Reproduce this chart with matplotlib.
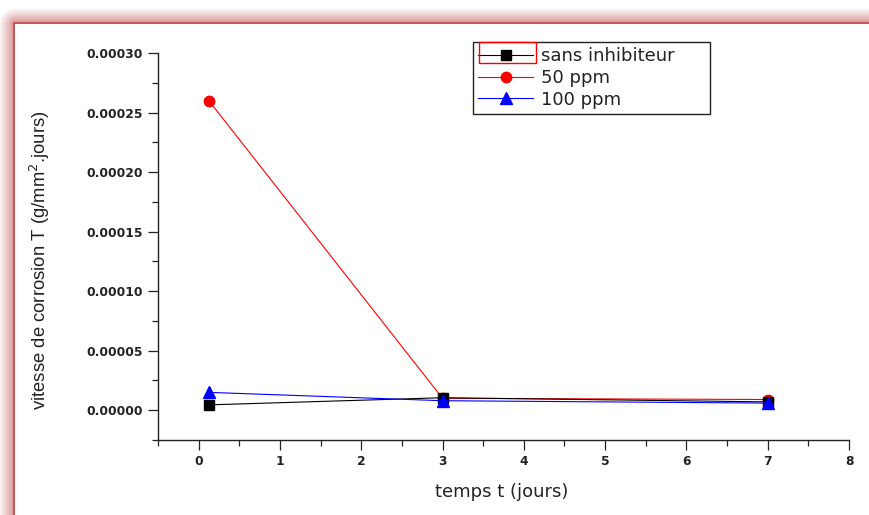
import numpy as np
import matplotlib
matplotlib.use("Agg")
import matplotlib.pyplot as plt
from matplotlib.ticker import MultipleLocator, FormatStrFormatter
from matplotlib.patches import Rectangle

# Measurements: corrosion rate vs immersion time
temps = [0.125, 3, 7]
sans_inhibiteur = [4.5e-6, 1.05e-5, 7.0e-6]
ppm_50 = [2.6e-4, 1.0e-5, 9.0e-6]
ppm_100 = [1.5e-5, 8.0e-6, 6.0e-6]
labels = ["sans inhibiteur", "50 ppm", "100 ppm"]

W, H = 870, 515
fig = plt.figure(figsize=(W / 100, H / 100), dpi=100)

# Soft pink frame around the page (top and left edges)
yy, xx = np.mgrid[0:H, 0:W]
inner_x, inner_y = 15, 24
dx = np.clip(inner_x - xx, 0, None)
dy = np.clip(inner_y - yy, 0, None)
d = np.sqrt(dx ** 2 + dy ** 2).astype(float)
a = np.clip(1 - d / 17.0, 0, 1) ** 1.1
a[(xx >= inner_x) & (yy >= inner_y)] = 0
pink = np.array([214, 138, 138]) / 255.0
img = np.ones((H, W, 3)) * (1 - a[..., None]) + pink * a[..., None]
dark = np.array([200, 88, 88]) / 255.0
img[(xx >= 13) & (xx < 15) & (yy >= 22)] = dark
img[(yy >= 22) & (yy < 24) & (xx >= 13)] = dark
fig.figimage(img, 0, 0, origin="upper", zorder=-5)

ax = fig.add_axes([158 / W, 1 - 440 / H, (849 - 158) / W, (440 - 53) / H])
ax.set_zorder(2)
ax.patch.set_alpha(0)

ax.plot(temps, sans_inhibiteur, color="black", lw=0.8, marker="s", ms=7,
        label=labels[0], zorder=3)
ax.plot(temps, ppm_50, color="red", lw=0.8, marker="o", ms=7.5,
        label=labels[1], zorder=2)
ax.plot(temps, ppm_100, color="blue", lw=0.8, marker="^", ms=8.5,
        label=labels[2], zorder=4)

ax.set_xlim(-0.5, 8)
ax.set_ylim(-0.000025, 0.0003)
for s in ("top", "right"):
    ax.spines[s].set_visible(False)
for s in ("left", "bottom"):
    ax.spines[s].set_linewidth(1.0)
    ax.spines[s].set_color("#222222")

ax.xaxis.set_major_locator(MultipleLocator(1))
ax.xaxis.set_minor_locator(MultipleLocator(0.5))
ax.yaxis.set_major_locator(MultipleLocator(0.00005))
ax.yaxis.set_minor_locator(MultipleLocator(0.000025))
ax.yaxis.set_major_formatter(FormatStrFormatter("%.5f"))
ax.xaxis.set_major_formatter(FormatStrFormatter("%d"))

ax.tick_params(which="major", direction="out", length=7, width=0.9,
               color="#222222", labelcolor="#222222", pad=4,
               labelsize=8.8)
ax.tick_params(which="minor", direction="out", length=4, width=0.9,
               color="#222222")
for lab in ax.get_xticklabels() + ax.get_yticklabels():
    lab.set_family("DejaVu Sans")
    lab.set_weight("bold")

ax.set_xlabel("temps t (jours)", fontsize=13, family="DejaVu Sans",
              color="#222222")
ax.xaxis.set_label_coords(0.498, -0.134)
ax.xaxis.label.set_va("center")
ax.set_ylabel("vitesse de corrosion T (g/mm$^2$.jours)", fontsize=13.3,
              family="Liberation Sans", color="#222222")
ax.yaxis.set_label_coords(-0.171, 0.465)
ax.yaxis.label.set_va("center")

leg = ax.legend(loc="upper left",
                bbox_to_anchor=(473 / W, 1 - 112 / H, 237 / W, 70 / H),
                bbox_transform=fig.transFigure, mode="expand",
                borderaxespad=0, frameon=True, fancybox=False, framealpha=1,
                edgecolor="#222222", prop=dict(family="DejaVu Sans", size=13),
                handlelength=3.05, handletextpad=0.4, labelspacing=0.2,
                borderpad=0.3)
leg.get_frame().set_linewidth(1.0)
for t in leg.get_texts():
    t.set_color("#222222")

frame_box = Rectangle((479 / W, 1 - 63 / H), 57 / W, 21 / H,
                      transform=fig.transFigure, fill=False,
                      edgecolor="red", lw=1.0, zorder=10)
fig.add_artist(frame_box)

fig.savefig("out.png", dpi=100)
